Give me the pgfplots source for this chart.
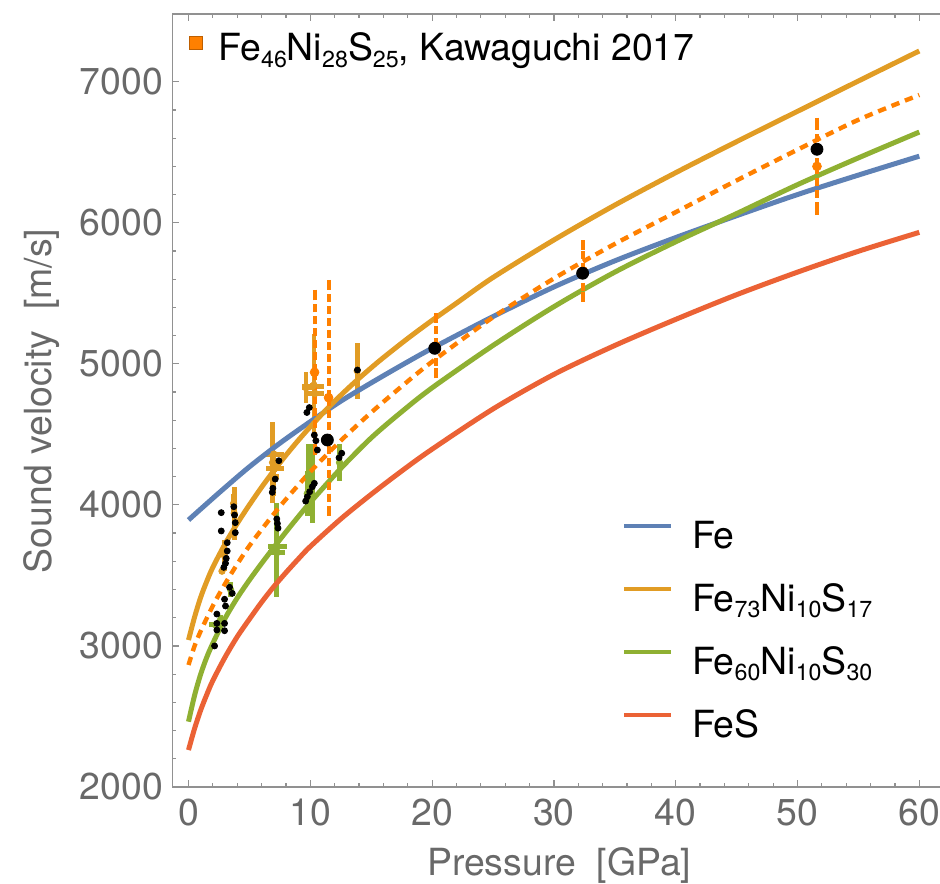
\documentclass[border=0pt]{standalone}
\usepackage{fontspec}
\setmainfont{TeX Gyre Heros}
\usepackage{pgfplots}
\pgfplotsset{compat=1.18}
\definecolor{cFe}{RGB}{94,129,181}
\definecolor{cA}{RGB}{225,156,36}
\definecolor{cB}{RGB}{143,176,50}
\definecolor{cS}{RGB}{235,98,53}
\definecolor{cK}{RGB}{255,128,0}
\definecolor{cKd}{RGB}{190,95,0}
\definecolor{axgray}{RGB}{145,145,145}
\definecolor{labgray}{RGB}{105,105,105}
\newcommand\bigf{\fontsize{18.7}{22}\selectfont}
\newcommand\sub[1]{\raisebox{-3.3pt}{\fontsize{11.6}{12}\selectfont #1}}

\pgfplotstableread{
x y
0 3893
2.5 4085
5 4270
7.5 4437
10 4590
12.5 4735
15 4865
17.5 4990
20 5110
25 5335
30 5545
35 5730
40 5895
45 6050
50 6200
55 6338
60 6472
}\feTab
\pgfplotstableread{
x y
0 3042
0.5 3205
1 3345
1.5 3458
2 3558
3 3723
4 3868
5 4000
6 4125
7 4242
8 4352
9 4456
10 4554
11 4647
12 4735
13 4818
14 4897
15 4972
16 5044
18 5180
20 5308
22 5430
25 5612
30 5878
35 6125
40 6355
45 6575
50 6790
55 7005
60 7218
}\aTab
\pgfplotstableread{
x y
0 2463
0.5 2650
1 2800
1.5 2920
2 3019
3 3195
4 3340
5 3467
6 3585
7 3698
8 3808
9 3915
10 4018
12.5 4258
15 4475
17.5 4660
20 4830
25 5130
30 5405
35 5650
40 5865
45 6065
50 6270
55 6460
60 6643
}\bTab
\pgfplotstableread{
x y
0 2262
0.5 2415
1 2545
1.5 2655
2 2755
3 2920
4 3065
5 3190
6 3310
7 3420
8 3520
9 3615
10 3705
12.5 3900
15 4075
17.5 4240
20 4395
25 4680
30 4925
35 5130
40 5315
45 5490
50 5650
55 5798
60 5932
}\sTab
\pgfplotstableread{
x y
0 2865
0.5 3000
1 3105
2 3285
3 3440
4 3580
5 3710
6 3825
7 3935
8 4040
10 4235
12.5 4455
15 4655
17.5 4840
20 5015
25 5330
30 5605
35 5850
40 6075
45 6300
50 6518
55 6730
60 6906
}\kTab
\pgfplotstableread{
x y ex ey
2.95 3640 0 110
2.75 3530 0.15 20
3.75 3940 0 190
3.70 4010 0.25 70
6.90 4300 0 290
7.00 4360 0.80 25
7.10 4260 0.70 30
6.95 4200 0.45 140
10.30 4850 0 360
10.20 4840 0.90 25
9.65 4830 0.30 110
10.40 4790 0.70 20
13.85 4950 0 200
}\aData
\pgfplotstableread{
x y ex ey
2.20 3150 0.55 15
2.60 3180 0 40
3.45 3400 0.20 50
7.20 3680 0 330
7.30 3705 0.80 20
7.25 3660 0.70 20
9.85 4200 0.25 230
10.15 4140 0.20 270
9.75 4080 0 160
10.05 4300 0 130
12.40 4300 0 130
}\bData
\pgfplotstableread{
x y ey
10.35 4940 550
11.50 4760 800
20.30 5128 195
32.40 5659 183
51.60 6400 310
}\kData
\pgfplotstableread{
x y
2.69 3945
2.69 3815
3.72 3987
3.78 3928
3.84 3874
3.84 3803
3.18 3732
3.18 3673
3.10 3621
3.04 3586
2.90 3557
3.37 3416
3.59 3373
2.96 3331
3.04 3283
2.33 3226
2.33 3160
2.33 3113
2.96 3160
2.96 3108
2.14 3000
7.25 3900
7.30 3868
7.35 3835
7.42 4313
7.12 4183
6.93 4118
6.88 4089
9.72 4655
9.92 4690
10.33 4495
10.46 4455
10.58 4389
10.33 4153
10.17 4129
9.95 4093
9.76 4058
9.62 4027
12.36 4334
12.58 4366
13.87 4956
}\smallDots
\pgfplotstableread{
x y
11.40 4460
20.22 5110
32.36 5642
51.60 6521
}\bigDots

\begin{document}
\begin{tikzpicture}
\begin{axis}[
  scale only axis, width=383.85pt, height=386.5pt,
  xmin=-1.33, xmax=61.70, ymin=2000, ymax=7480,
  axis x line*=box, axis y line*=left,
  xtick={0,10,20,30,40,50,60}, ytick={2000,3000,4000,5000,6000,7000},
  minor x tick num=4, minor y tick num=4,
  tick align=inside,
  major tick length=3.5pt, minor tick length=1.8pt,
  every tick/.style={axgray, line width=0.6pt},
  axis line style={axgray, line width=0.7pt},
  tick label style={font=\bigf, text=labgray},
  /pgf/number format/assume math mode=true,
  /pgf/number format/set thousands separator={},
  xticklabel style={anchor=base, yshift=-19pt, inner sep=0pt},
  yticklabel style={anchor=east, inner sep=0pt, xshift=-4.5pt},
  xlabel={Pressure\ \ [GPa]},
  ylabel={Sound velocity\ \ [m/s]},
  x label style={at={([yshift=-44pt]axis description cs:0.504,0)}, anchor=base, font=\bigf, text=labgray, inner sep=0pt},
  y label style={at={([xshift=-60.3pt]axis description cs:0,0.4994)}, anchor=base, font=\bigf, text=labgray, inner sep=0pt},
  legend style={at={(rel axis cs:0.5858,0.345)}, anchor=north west, draw=none, fill=none,
    font=\bigf, inner sep=0pt, outer sep=0pt, row sep=12.5pt, column sep=9.5pt,
    nodes={inner sep=0pt, text height=14pt, text depth=5pt}},
  legend cell align=left,
  legend image code/.code={\draw[#1, line width=2pt] (0pt,6.7pt) -- (23.5pt,6.7pt);},
]
% Fe73 data with error bars
\addplot[only marks, mark=*, mark size=1.6pt, color=cA, forget plot,
  error bars/.cd, x dir=both, x explicit, y dir=both, y explicit,
  error bar style={line width=2.4pt, color=cA}, error mark=none]
  table[x=x, y=y, x error=ex, y error=ey] {\aData};
% Fe60 data with error bars
\addplot[only marks, mark=*, mark size=1.6pt, color=cB, forget plot,
  error bars/.cd, x dir=both, x explicit, y dir=both, y explicit,
  error bar style={line width=2.4pt, color=cB}, error mark=none]
  table[x=x, y=y, x error=ex, y error=ey] {\bData};
% fitted curves
\addplot[cFe, line width=2.5pt, smooth] table[x=x,y=y] {\feTab};
\addlegendentry{Fe}
\addplot[cA, line width=2.5pt, smooth] table[x=x,y=y] {\aTab};
\addlegendentry{Fe\sub{73}Ni\sub{10}S\sub{17}}
\addplot[cB, line width=2.5pt, smooth] table[x=x,y=y] {\bTab};
\addlegendentry{Fe\sub{60}Ni\sub{10}S\sub{30}}
\addplot[cS, line width=2.5pt, smooth] table[x=x,y=y] {\sTab};
\addlegendentry{FeS}
\addplot[cK, line width=2.2pt, smooth, dash pattern=on 4.2pt off 3pt, forget plot] table[x=x,y=y] {\kTab};
% Kawaguchi data
\addplot[only marks, mark=*, mark size=2.2pt, color=cK, forget plot,
  error bars/.cd, y dir=both, y explicit,
  error bar style={line width=2pt, color=cK, dash pattern=on 4pt off 2pt},
  error mark=-, error mark options={line width=2pt, mark size=2.5pt, cK, solid}]
  table[x=x, y=y, y error=ey] {\kData};
% black dots
\addplot[only marks, mark=*, mark size=1.5pt, color=black, forget plot] table[x=x,y=y] {\smallDots};
\addplot[only marks, mark=*, mark size=3pt, color=black, forget plot] table[x=x,y=y] {\bigDots};
\end{axis}
\begin{axis}[
  scale only axis, width=383.85pt, height=386.5pt,
  xmin=-1.33, xmax=61.70, ymin=2000, ymax=7480,
  hide axis,
  legend style={at={(rel axis cs:0.022,0.9754)}, anchor=north west, draw=none, fill=none,
    font=\bigf, inner sep=0pt, outer sep=0pt, column sep=8pt,
    nodes={inner sep=0pt, text height=14pt, text depth=5pt}},
  legend cell align=left,
  legend image code/.code={\draw[mark repeat=2, mark phase=2, #1] plot coordinates {(0pt,4.5pt) (6.5pt,4.5pt) (13pt,4.5pt)};},
]
\addlegendimage{only marks, mark=square*, mark size=3.3pt, mark options={fill=cK, draw=cKd, line width=0.5pt}}
\addlegendentry{Fe\sub{46}Ni\sub{28}S\sub{25}, Kawaguchi 2017}
\end{axis}
\pgfresetboundingbox
\path (-86.15pt,-48pt) rectangle (383.85pt,393.5pt);
\end{tikzpicture}
\end{document}
